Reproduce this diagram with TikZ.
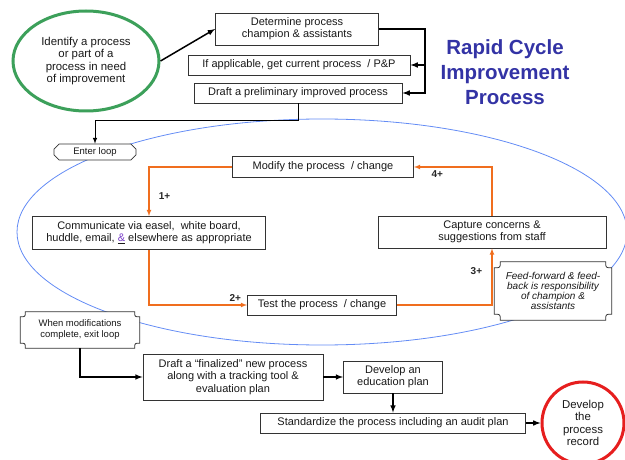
\documentclass[tikz,border=0pt]{standalone}
\usepackage{fontspec}
\setmainfont{Liberation Sans}
\usepackage{xcolor}
\definecolor{startgreen}{RGB}{60,160,90}
\definecolor{loopblue}{RGB}{100,140,245}
\definecolor{titleblue}{RGB}{51,51,165}
\definecolor{looporange}{RGB}{240,110,30}
\definecolor{endred}{RGB}{230,30,30}
\definecolor{linkpurple}{RGB}{120,60,200}
\usetikzlibrary{calc}
\usetikzlibrary{shapes.geometric}
\usetikzlibrary{shapes.misc}
\tikzset{
    common/.style={rectangle, fill=white, align=center, inner sep=1pt, text=black!90},
    box/.style={common, draw=black!80, line width=0.9pt, font=\fontsize{11}{12.3}\selectfont},
    tag/.style={common, font=\fontsize{9.5}{11}\selectfont},
    cut/.style={tag, draw=black!80, line width=0.8pt, chamfered rectangle, chamfered rectangle xsep=2.5pt, chamfered rectangle ysep=2.5pt},
    plaque/.style={tag, fill=none, append after command={\pgfextra{
        \filldraw[fill=white, draw=black!80, line width=0.8pt]
            ($(\tikzlastnode.north west)+(#1,0)$) -- ($(\tikzlastnode.north east)+(-#1,0)$)
            .. controls ($(\tikzlastnode.north east)+(-#1,-#1)$) .. ($(\tikzlastnode.north east)+(0,-#1)$)
            -- ($(\tikzlastnode.south east)+(0,#1)$)
            .. controls ($(\tikzlastnode.south east)+(-#1,#1)$) .. ($(\tikzlastnode.south east)+(-#1,0)$)
            -- ($(\tikzlastnode.south west)+(#1,0)$)
            .. controls ($(\tikzlastnode.south west)+(#1,#1)$) .. ($(\tikzlastnode.south west)+(0,#1)$)
            -- ($(\tikzlastnode.north west)+(0,-#1)$)
            .. controls ($(\tikzlastnode.north west)+(#1,-#1)$) .. ($(\tikzlastnode.north west)+(#1,0)$)
            -- cycle;
    }}},
    terminal/.style={ellipse, fill=white, align=center, line width=3pt, inner sep=0pt, text=black!90, font=\fontsize{11.4}{12.4}\selectfont},
    flow/.style={->, line width=1.5pt},
    cycle/.style={->, draw=looporange, line width=1.1pt},
    cyclenr/.style={font=\fontsize{10}{11}\selectfont\bfseries, text=black!85},
    loopline/.style={draw=loopblue, line width=0.8pt}
}

\begin{document}
\begin{tikzpicture}[x=1pt, y=-1pt, >=latex]
    \useasboundingbox (0,0) rectangle (625,460);

    % the loop
    \draw[loopline] (322,232) ellipse [x radius=305, y radius=113];

    % getting started
    \node[terminal, draw=startgreen, minimum width=146pt, minimum height=100pt] (identify) at (86,61)
        {Identify a process\\or part of a\\process in need\\of improvement};
    \node[box, minimum width=163pt, minimum height=32pt] (champion) at (297,29)
        {Determine process\\champion \& assistants};
    \node[box, minimum width=222pt, minimum height=20pt] (current) at (299,65)
        {If applicable, get current process~ / P\&P};
    \node[box, minimum width=208pt, minimum height=20pt] (prelim) at (298,93)
        {Draft a preliminary improved process};
    \node[align=center, text=titleblue, font=\fontsize{20.5}{25}\selectfont\bfseries] (title) at (505,72)
        {Rapid Cycle\\Improvement\\Process};
    \node[cut, minimum width=82pt, minimum height=15pt] (enter) at (95,152) {Enter loop};

    % inside the loop
    \node[box, minimum width=181pt, minimum height=21pt] (modify) at (323,167)
        {Modify the process~ / change};
    \node[box, minimum width=233pt, minimum height=33pt] (communicate) at (149,233)
        {Communicate via easel,~ white board,\\huddle, email, \underline{\textcolor{linkpurple}{\&}} elsewhere as appropriate};
    \node[box, minimum width=228pt, minimum height=32pt] (capture) at (492,232)
        {Capture concerns \&\\suggestions from staff};
    \node[box, minimum width=149pt, minimum height=20pt] (test) at (322,305)
        {Test the process~ / change};
    \node[plaque=6pt, minimum width=117pt, minimum height=58pt, font=\fontsize{10}{10.2}\selectfont\itshape] (feed) at (553,291)
        {Feed-forward \& feed-\\back is responsibility\\of champion \&\\assistants};

    % leaving the loop
    \node[plaque=5pt, minimum width=119pt, minimum height=36pt] (exit) at (80,330)
        {When modifications\\complete, exit loop};
    \node[box, minimum width=180pt, minimum height=46pt, font=\fontsize{11}{12.6}\selectfont] (final) at (233,377)
        {Draft a “finalized” new process\\along with a tracking tool \&\\evaluation plan};
    \node[box, minimum width=99pt, minimum height=32pt] (education) at (393,377)
        {Develop an\\education plan};
    \node[box, minimum width=265pt, minimum height=20pt] (standard) at (393,423)
        {Standardize the process including an audit plan};
    \node[terminal, circle, draw=endred, minimum size=82pt] (record) at (583,423)
        {Develop\\the\\process\\record};

    \coordinate (turn) at ($(champion.east)+(46pt,0)$);

    \draw[flow] (identify.east) -- (champion.west);
    \draw[flow] (champion.east) -- (turn) |- (current.east);
    \draw[flow] (turn) |- (prelim.east);
    \draw[->, line width=1pt] (prelim.south) -- ++(0,17) -| (enter.north);

    \draw[cycle] (modify.west) -| node[cyclenr, pos=0.8, right=6pt] {1+} (communicate.north);
    \draw[cycle] (communicate.south) |- node[cyclenr, pos=0.94, above] {2+} (test.west);
    \draw[cycle] (test.east) -| node[cyclenr, pos=0.8, left=6pt] {3+} (capture.south);
    \draw[cycle] (capture.north) |- node[cyclenr, pos=0.85, below] {4+} (modify.east);

    \draw[flow] (exit.south) |- (final.west);
    \draw[flow] (final.east) -- (education.west);
    \draw[flow] (education.south) -- (standard.north);
    \draw[flow] (standard.east) -- (record.west);
\end{tikzpicture}
\end{document}
